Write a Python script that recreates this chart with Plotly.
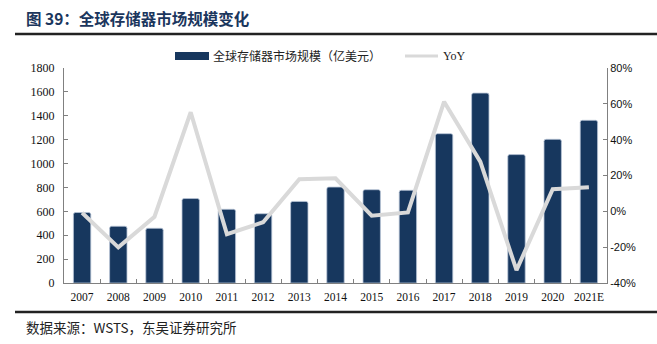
import plotly.graph_objects as go

years = ["2007", "2008", "2009", "2010", "2011", "2012", "2013", "2014",
         "2015", "2016", "2017", "2018", "2019", "2020", "2021E"]
market_size = [590, 475, 458, 707, 617, 580, 683, 803, 781, 776, 1250, 1590, 1075, 1203, 1362]
yoy = [-0.8, -20.1, -3.0, 55.3, -12.7, -6.1, 17.9, 18.4, -2.4, -0.6, 61.2, 27.7, -32.8, 12.3, 13.4]

left_ticks = list(range(0, 1801, 200))
left_labels = [f"{v}\u00a0\u00a0" for v in left_ticks]
right_ticks = list(range(-40, 81, 20))
right_labels = [f"{v}%" for v in right_ticks]

BAR = "#17375e"
LINE = "#d9d9d9"
TITLE = "#1b365d"
SERIF = "Liberation Serif, Times New Roman, serif"
CJK = "Noto Sans CJK SC"

# plot area in pixels
L, R, T, B = 64, 607, 68, 283
W, H = 657, 344
def px(x):
    return (x - L) / (R - L)
def py(y):
    return (B - y) / (B - T)

fig = go.Figure()
fig.add_trace(go.Bar(
    x=years, y=market_size, name="全球存储器市场规模（亿美元）",
    marker=dict(color=BAR, line=dict(color="#b8c4d6", width=0.8), cornerradius=2),
    yaxis="y", showlegend=False,
))
fig.add_trace(go.Scatter(
    x=years, y=yoy, name="YoY", mode="lines",
    line=dict(color=LINE, width=4), yaxis="y2", showlegend=False,
))

fig.update_layout(
    width=W, height=H,
    margin=dict(l=L, r=W - R, t=T, b=H - B),
    paper_bgcolor="white", plot_bgcolor="white",
    bargap=0.52,
    xaxis=dict(type="category", tickson="boundaries", ticks="inside", ticklen=4,
               tickangle=0, tickcolor="#808080", showline=True, linecolor="#808080",
               linewidth=1, showgrid=False, ticklabelstandoff=3,
               tickfont=dict(family=SERIF, size=11.5, color="#111")),
    yaxis=dict(range=[0, 1800], tickvals=left_ticks, ticktext=left_labels,
               ticks="inside", ticklen=4,
               tickcolor="#808080", showline=True, linecolor="#808080", linewidth=1,
               showgrid=False, zeroline=False,
               tickfont=dict(family=SERIF, size=12, color="#111")),
    yaxis2=dict(range=[-40, 80], tickvals=right_ticks, ticktext=right_labels,
                overlaying="y", side="right", ticks="inside", ticklen=4,
                tickcolor="#808080", showline=True, linecolor="#808080", linewidth=1,
                showgrid=False, zeroline=False,
                tickfont=dict(family="Liberation Sans, Arial, sans-serif", size=11, color="#111")),
)

shapes = [
    # title underline
    dict(type="line", xref="paper", yref="paper", x0=px(15), x1=px(657), y0=py(34), y1=py(34),
         line=dict(color="#222", width=2.5)),
    # source line
    dict(type="line", xref="paper", yref="paper", x0=px(15), x1=px(657), y0=py(312), y1=py(312),
         line=dict(color="#222", width=2.5)),
    # legend swatches
    dict(type="rect", xref="paper", yref="paper", x0=px(175), x1=px(209), y0=py(60), y1=py(52),
         fillcolor=BAR, line=dict(width=0)),
    dict(type="line", xref="paper", yref="paper", x0=px(405), x1=px(438), y0=py(56), y1=py(56),
         line=dict(color=LINE, width=3)),
]
annotations = [
    dict(text="<b>图 39：全球存储器市场规模变化</b>", xref="paper", yref="paper",
         x=px(24), y=py(18), xanchor="left", yanchor="middle", showarrow=False,
         font=dict(family=CJK, size=15.5, color=TITLE)),
    dict(text="数据来源：WSTS，东吴证券研究所", xref="paper", yref="paper",
         x=px(24), y=py(327), xanchor="left", yanchor="middle", showarrow=False,
         font=dict(family=CJK, size=13.5, color="#222")),
    dict(text="全球存储器市场规模（亿美元）", xref="paper", yref="paper",
         x=px(211), y=py(56), xanchor="left", yanchor="middle", showarrow=False,
         font=dict(family=CJK, size=12, color="#222")),
    dict(text="YoY", xref="paper", yref="paper",
         x=px(441), y=py(56), xanchor="left", yanchor="middle", showarrow=False,
         font=dict(family=SERIF, size=12, color="#222")),
]
fig.update_layout(shapes=shapes, annotations=annotations)

fig.write_html("out.html")
